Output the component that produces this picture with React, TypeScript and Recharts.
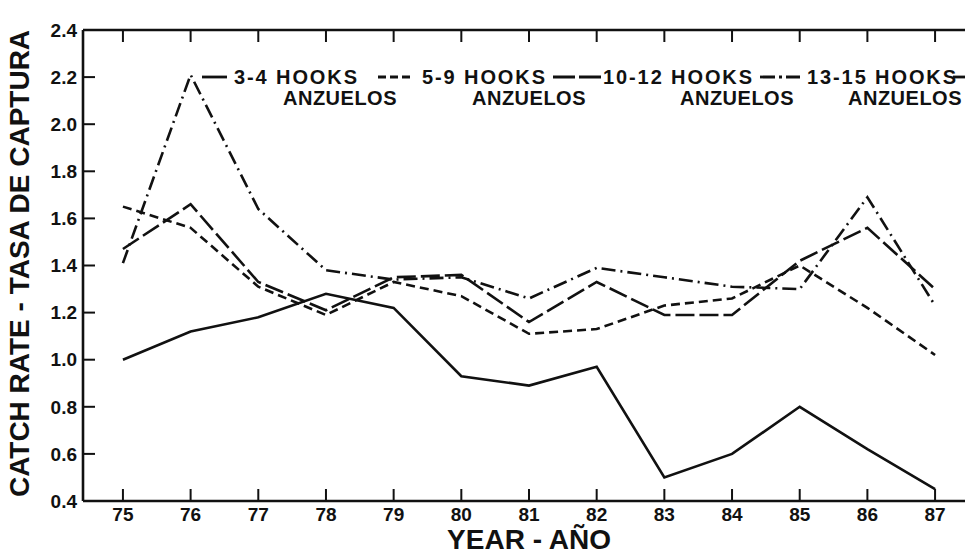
import { Legend, Line, LineChart, ReferenceLine, XAxis, YAxis } from "recharts";

const YEARS = [75, 76, 77, 78, 79, 80, 81, 82, 83, 84, 85, 86, 87];
const HOOKS_3_4 = [1.0, 1.12, 1.18, 1.28, 1.22, 0.93, 0.89, 0.97, 0.5, 0.6, 0.8, 0.62, 0.45];
const HOOKS_5_9 = [1.65, 1.56, 1.31, 1.19, 1.33, 1.27, 1.11, 1.13, 1.23, 1.26, 1.4, 1.22, 1.02];
const HOOKS_10_12 = [1.47, 1.66, 1.33, 1.21, 1.35, 1.36, 1.16, 1.33, 1.19, 1.19, 1.42, 1.56, 1.3];
const HOOKS_13_15 = [1.41, 2.21, 1.64, 1.38, 1.34, 1.35, 1.26, 1.39, 1.35, 1.31, 1.3, 1.69, 1.23];
const Y_TICKS = [0.4, 0.6, 0.8, 1.0, 1.2, 1.4, 1.6, 1.8, 2.0, 2.2, 2.4];

const SERIES_KEYS = ["h34", "h59", "h1012", "h1315"];
const SERIES_NAMES = ["3-4 HOOKS", "5-9 HOOKS", "10-12 HOOKS", "13-15 HOOKS"];
const SERIES_SUB = "ANZUELOS";

const rows = YEARS.map((year, i) => ({
  year,
  h34: HOOKS_3_4[i],
  h59: HOOKS_5_9[i],
  h1012: HOOKS_10_12[i],
  h1315: HOOKS_13_15[i],
}));

const INK = "#111";
const FONT = "'Liberation Sans', Arial, Helvetica, sans-serif";
const X_DOMAIN = [74.41, 87.59];
const DASHES = [undefined, "9 5", "19 5", "14 5 2 5"];

// frame geometry
const PLOT_TOP = 30;
const TICK_LEN = 12;
const X_GAP = 7;
const Y_GAP = 6;

// legend layout (page x): sample start/end, label start, second-line start
const LEGEND_POS = [
  { s0: 202, s1: 227, tx: 234, sub: 283 },
  { s0: 378, s1: 410, tx: 422, sub: 472 },
  { s0: 553, s1: 601, tx: 603, sub: 680 },
  { s0: 760, s1: 800, tx: 807, sub: 848 },
];
const LEGEND_DASHES = [undefined, "8 4", "22 4", "15 4 3 4"];

function HookLegend() {
  return (
    <svg width={965} height={60} style={{ display: "block" }}>
      {LEGEND_POS.map((p, i) => (
        <g key={SERIES_KEYS[i]}>
          <line x1={p.s0} x2={p.s1} y1={17} y2={17} stroke={INK} strokeWidth={2.8} strokeDasharray={LEGEND_DASHES[i]} />
          <text x={p.tx} y={24} fontFamily={FONT} fontWeight={700} fontSize={20} letterSpacing={1.9} fill={INK}>
            {SERIES_NAMES[i]}
          </text>
          <text x={p.sub} y={45} fontFamily={FONT} fontWeight={700} fontSize={20} letterSpacing={0.5} fill={INK}>
            {SERIES_SUB}
          </text>
        </g>
      ))}
      <line x1={953} x2={966} y1={17} y2={17} stroke={INK} strokeWidth={2.8} />
    </svg>
  );
}

// year label plus inward tick marks on the bottom and top frame
function YearTick({ x, y, payload }: any) {
  const axisY = y - X_GAP;
  return (
    <g>
      <line x1={x} x2={x} y1={axisY} y2={axisY - TICK_LEN} stroke={INK} strokeWidth={2} />
      <line x1={x} x2={x} y1={PLOT_TOP} y2={PLOT_TOP + TICK_LEN} stroke={INK} strokeWidth={2} />
      <text x={x} y={y} dy="0.71em" textAnchor="middle" fontFamily={FONT} fontWeight={700} fontSize={19} fill={INK}>
        {payload.value}
      </text>
    </g>
  );
}

function RateTick({ x, y, payload }: any) {
  const axisX = x + Y_GAP;
  return (
    <g>
      <line x1={axisX} x2={axisX + TICK_LEN} y1={y} y2={y} stroke={INK} strokeWidth={2} />
      <text x={x} y={y} dy="0.355em" textAnchor="end" fontFamily={FONT} fontWeight={700} fontSize={19} fill={INK}>
        {Number(payload.value).toFixed(1)}
      </text>
    </g>
  );
}

export default function App() {
  const frame = { stroke: INK, strokeWidth: 2.6 };
  return (
    <div style={{ position: "absolute", left: 0, top: 0, width: 965, height: 554, overflow: "hidden", background: "#fff" }}>
      <LineChart width={975} height={554} data={rows} margin={{ top: PLOT_TOP, right: 0, bottom: 0, left: 0 }}>
        <XAxis
          dataKey="year"
          type="number"
          domain={X_DOMAIN}
          ticks={YEARS}
          allowDataOverflow
          height={53}
          tickSize={0}
          tickMargin={X_GAP}
          axisLine={frame}
          tickLine={false}
          tick={<YearTick />}
          label={{
            content: ({ viewBox }: any) => (
              <text
                x={viewBox.x + viewBox.width / 2}
                y={viewBox.y + viewBox.height - 5}
                textAnchor="middle"
                fontFamily={FONT}
                fontWeight={700}
                fontSize={28}
                fill={INK}
              >
                YEAR - AÑO
              </text>
            ),
          }}
        />
        <YAxis
          domain={[0.4, 2.4]}
          ticks={Y_TICKS}
          allowDataOverflow
          width={83}
          tickSize={0}
          tickMargin={Y_GAP}
          axisLine={frame}
          tickLine={false}
          tick={<RateTick />}
          label={{
            content: ({ viewBox }: any) => {
              const cx = 29;
              const cy = viewBox.y + viewBox.height / 2 - 2;
              return (
                <text
                  x={cx}
                  y={cy}
                  transform={`rotate(-90, ${cx}, ${cy})`}
                  textAnchor="middle"
                  fontFamily={FONT}
                  fontWeight={700}
                  fontSize={28}
                  fill={INK}
                >
                  CATCH RATE - TASA DE CAPTURA
                </text>
              );
            },
          }}
        />
        <ReferenceLine y={2.4} stroke={INK} strokeWidth={2.6} />
        <Legend
          layout="horizontal"
          verticalAlign="middle"
          align="center"
          wrapperStyle={{ position: "absolute", left: 0, top: 60, width: 965, height: 60 }}
          content={() => <HookLegend />}
        />
        {SERIES_KEYS.map((k, i) => (
          <Line
            key={k}
            dataKey={k}
            name={SERIES_NAMES[i]}
            type="linear"
            stroke={INK}
            strokeWidth={2.6}
            strokeDasharray={DASHES[i]}
            dot={false}
            activeDot={false}
            isAnimationActive={false}
          />
        ))}
      </LineChart>
    </div>
  );
}
